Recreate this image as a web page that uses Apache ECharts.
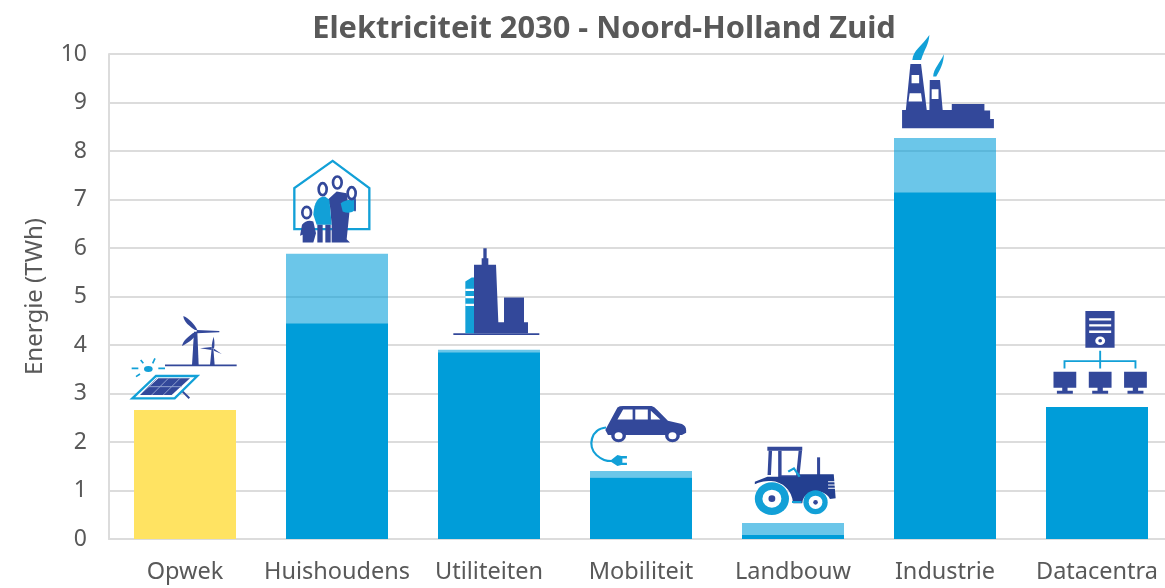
<!DOCTYPE html>
<html>
<head>
<meta charset="utf-8">
<title>Elektriciteit 2030</title>
<style>
html, body { margin: 0; padding: 0; background: #fff; overflow: hidden; }
#main { width: 1165px; height: 588px; }
</style>
<script src="https://cdn.jsdelivr.net/npm/echarts@6/dist/echarts.min.js"></script>
</head>
<body>
<div id="main"></div>
<script>
var categories = ["Opwek", "Huishoudens", "Utiliteiten", "Mobiliteit", "Landbouw", "Industrie", "Datacentra"];
var opwekValues = [2.66, null, null, null, null, null, null];
var baseValues = [null, 4.45, 3.85, 1.27, 0.09, 7.15, 2.72];
var extraValues = [null, 1.43, 0.05, 0.13, 0.24, 1.12, null];
var yTicks = [0, 10, 1];

var NAVY = '#33489a';
var BLUE = '#12a0d7';
var TEXT = '#595959';
var GRID = '#dcdcdc';
var WIDE = 1 / 2.635;

function ell(cx, cy, rx, ry) {
    return 'M' + (cx - rx) + ' ' + cy + 'A' + rx + ' ' + ry + ' 0 1 1 ' + (cx + rx) + ' ' + cy +
        'A' + rx + ' ' + ry + ' 0 1 1 ' + (cx - rx) + ' ' + cy + 'Z';
}
function fill(d, color) { return { d: d, fill: color }; }
function line(d, color, w) { return { d: d, stroke: color, lw: w }; }

function monitor(x) {
    return fill('M' + x + ' 215h60v48h-60zM' + (x + 23) + ' 263h14v9h-14zM' + (x + 9) + ' 272h42v9h-42z', NAVY);
}

// icon shapes, ox/oy = offset from the bar's top centre, sx = horizontal scale
var icons = {
    Opwek: { ox: -85, oy: -260, sx: 1 / 3, parts: [
        line('M195 646H410', NAVY, 5),
        fill('M276 646L282 545H292L296 646Z', NAVY),
        fill('M285 540C270 530 250 515 250 498C268 505 285 525 292 540Z', NAVY),
        fill('M290 540L358 543V547L290 550Z', NAVY),
        fill('M280 548C265 560 250 570 246 588C262 580 278 570 290 552Z', NAVY),
        fill('M330 646L335 595H340L344 646Z', NAVY),
        fill('M335 595C335 580 338 570 341 560C344 575 344 585 342 595Z', NAVY),
        fill('M335 591L300 595L335 600Z', NAVY),
        fill('M340 595L365 612L342 602Z', NAVY),
        fill(ell(145, 657, 13, 9), BLUE),
        line('M95 655H115M122 630L130 640M165 625L158 640M175 655H195M108 680L120 672', BLUE, 5),
        line('M245 722L268 745', NAVY, 6),
        { d: 'M97 745L168 678H292L224 745Z', fill: '#fff', stroke: BLUE, lw: 7 },
        fill('M120 735L175 685H270L215 735Z', NAVY),
        line('M145 710H245M170 685L120 735M205 685L155 735M240 685L190 735', '#8fa0cf', 3)
    ] },
    Huishoudens: { ox: -237, oy: -104, sx: 1 / 3, parts: [
        line('M583 238V115L698 33L808 115V238Z', BLUE, 7),
        fill('M683 150L710 125L740 130L748 190L740 268L750 278H695V225L690 170Z', NAVY),
        fill('M722 160Q745 145 767 150V180Q750 195 728 185Z', BLUE),
        line('M765 145V184', NAVY, 5),
        { d: ell(755, 130, 12, 18), fill: '#fff', stroke: NAVY, lw: 8 },
        { d: ell(712, 98, 13, 18), fill: '#fff', stroke: NAVY, lw: 8 },
        fill('M640 195C642 155 655 140 675 140L688 150L695 225H650Z', BLUE),
        fill('M652 225H668V278H652ZM676 225H692V278H676Z', NAVY),
        { d: ell(668, 118, 12, 18), fill: '#fff', stroke: NAVY, lw: 8 },
        fill('M606 225Q620 208 640 215L648 250L640 278H608V255L600 258Z', NAVY),
        { d: ell(620, 188, 13, 17), fill: '#fff', stroke: NAVY, lw: 8 }
    ] },
    Utiliteiten: { ox: -389, oy: -200, sx: 1 / 3, parts: [
        line('M1060 553H1318', NAVY, 5),
        fill('M1096 550V395L1115 383H1130V550Z', BLUE),
        line('M1096 420H1128M1096 442H1128M1096 465H1128', '#fff', 7),
        fill('M1122 550V345H1145V325H1150V295H1160V325H1165V345H1188L1195 517H1212V443H1272V517H1284V550Z', NAVY)
    ] },
    Mobiliteit: { ox: -71, oy: -171, sx: WIDE, parts: [
        line('M95 382C55 385 45 440 70 465C85 480 95 483 110 483', BLUE, 6),
        fill('M105 483L125 465L135 468H150V475H138V488H150V495H135L125 498Z', BLUE),
        fill('M93 390L125 322Q130 318 140 318H215Q222 320 230 330L258 362L295 372Q306 378 306 390V398L295 405H100Z', NAVY),
        fill('M125 358L140 328H165V358ZM172 328H205V358H172ZM213 332L238 358H213Z', '#fff'),
        { d: ell(128, 407, 15, 15), fill: '#fff', stroke: NAVY, lw: 9 },
        { d: ell(270, 407, 15, 15), fill: '#fff', stroke: NAVY, lw: 9 }
    ] },
    Landbouw: { ox: -223, oy: -223, sx: WIDE, parts: [
        fill('M520 440H612V452H520Z', NAVY),
        line('M528 452L525 525M553 452V530H600M607 452L600 530', NAVY, 9),
        line('M655 472V525', NAVY, 8),
        fill('M520 530H600V523H695L700 595L685 597A38 38 0 0 0 612 610H588C585 570 560 545 530 543C510 543 495 548 487 553V545Z', '#233f90'),
        line('M680 545H700M680 555H700M680 565H700', '#fff', 3),
        line('M575 515L590 505L605 530', BLUE, 6),
        line('M585 606H610', BLUE, 6),
        fill(ell(532, 596, 45, 49), BLUE),
        fill(ell(532, 596, 25, 27), '#fff'),
        fill(ell(532, 596, 9, 10), NAVY),
        fill(ell(647, 607, 32, 36), BLUE),
        fill(ell(647, 607, 18, 20), '#fff'),
        fill(ell(647, 607, 6, 7), NAVY)
    ] },
    Industrie: { ox: -375, oy: -118, sx: WIDE, parts: [
        fill('M875 325V270H885L897 132H925L940 270H947L948 180H975L982 270H1006V252H1092V272H1107V297H1117V325Z', NAVY),
        fill('M900 165H920V190H900ZM895 220H925L928 245H892ZM953 208H971V237H953Z', '#fff'),
        fill('M902 120C905 90 925 80 947 45C945 75 935 85 925 120Z', BLUE),
        fill('M957 170C958 145 975 130 985 103C985 130 975 150 965 170Z', BLUE)
    ] },
    Datacentra: { ox: -527, oy: -107, sx: WIDE, parts: [
        fill('M1358 33H1435V143H1358Z', NAVY),
        line('M1368 58H1426M1368 76H1426M1368 95H1426', '#fff', 7),
        fill(ell(1397, 122, 13, 13), '#fff'),
        fill(ell(1397, 122, 5, 5), NAVY),
        line('M1397 152V205M1303 205V183H1490V205', BLUE, 5),
        monitor(1274), monitor(1367), monitor(1460)
    ] }
};

var iconData = categories.map(function (name, i) {
    return [i, (opwekValues[i] || 0) + (baseValues[i] || 0) + (extraValues[i] || 0), name];
});

function renderIcon(params, api) {
    var pos = api.coord([api.value(0), api.value(1)]);
    var icon = icons[categories[params.dataIndex]];
    return {
        type: 'group',
        x: pos[0] + icon.ox,
        y: pos[1] + icon.oy,
        scaleX: icon.sx,
        scaleY: 1 / 3,
        children: icon.parts.map(function (p) {
            return {
                type: 'path',
                shape: { pathData: p.d },
                style: { fill: p.fill || 'none', stroke: p.stroke || 'none', lineWidth: p.lw || 0 }
            };
        })
    };
}

var chart = echarts.init(document.getElementById('main'));
chart.setOption({
    animation: false,
    title: {
        text: 'Elektriciteit 2030 - Noord-Holland Zuid',
        left: 599,
        top: 9,
        textAlign: 'center',
        textStyle: { fontFamily: 'Noto Sans', fontSize: 30.8, fontWeight: 'bold', color: TEXT }
    },
    grid: { left: 109, width: 1064, top: 54, height: 485, outerBoundsMode: 'none' },
    xAxis: {
        type: 'category',
        data: categories,
        axisTick: { show: false },
        axisLine: { lineStyle: { color: GRID, width: 2 } },
        axisLabel: { margin: 21, fontFamily: 'Noto Sans', fontSize: 23.5, color: TEXT, interval: 0 }
    },
    yAxis: {
        type: 'value',
        min: yTicks[0],
        max: yTicks[1],
        interval: yTicks[2],
        name: 'Energie (TWh)',
        nameLocation: 'middle',
        nameGap: 62,
        nameTextStyle: { fontFamily: 'Noto Sans', fontSize: 24, color: TEXT },
        axisTick: { show: false },
        axisLine: { show: true, lineStyle: { color: GRID, width: 2 } },
        axisLabel: { margin: 22, padding: [7, 0, 0, 0], fontFamily: 'Noto Sans', fontSize: 23, color: TEXT },
        splitLine: { lineStyle: { color: GRID, width: 2 } }
    },
    series: [
        { name: 'Opwek', type: 'bar', stack: 'e', barWidth: 102, data: opwekValues, itemStyle: { color: '#ffe362' } },
        { name: 'Basis', type: 'bar', stack: 'e', barWidth: 102, data: baseValues, itemStyle: { color: '#009dd9' } },
        { name: 'Extra', type: 'bar', stack: 'e', barWidth: 102, data: extraValues, itemStyle: { color: '#009dd9', opacity: 0.58 } },
        { name: 'Iconen', type: 'custom', renderItem: renderIcon, data: iconData, encode: { x: 0, y: 1 }, silent: true, z: 5 }
    ]
});
</script>
</body>
</html>
